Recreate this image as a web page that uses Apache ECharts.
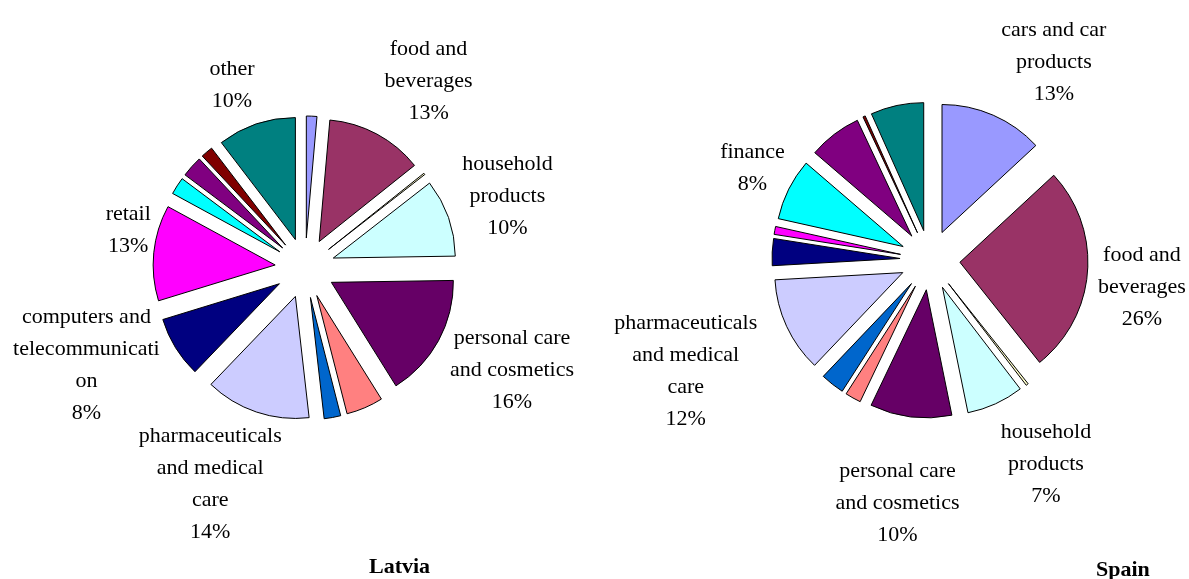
<!DOCTYPE html>
<html>
<head>
<meta charset="utf-8">
<script src="https://cdn.jsdelivr.net/npm/echarts@6/dist/echarts.min.js"></script>
<style>
  html, body { margin: 0; padding: 0; background: #fff; }
  #chart { width: 1189px; height: 579px; }
</style>
</head>
<body>
<div id="chart"></div>
<script>
// sectors, same order in both pies (clockwise from 12 o'clock)
const categories = [
  'cars and car products', 'food and beverages', 'category 3', 'household products',
  'personal care and cosmetics', 'category 6', 'category 7', 'pharmaceuticals and medical care',
  'computers and telecommunication', 'retail', 'category 11', 'finance',
  'category 13', 'category 14', 'other'
];

// shares in % (null = no slice)
const latviaValues = [1.4, 12.9, 0.2, 10.3, 16.4, 4.9, 2.2, 14.0, 8.1, 12.7, null, 2.3, 2.8, 1.6, 10.4];
const spainValues  = [13.1, 26.2, 0.3, 7.2, 10.3, 2.0, 3.0, 12.0, 3.4, 1.0, null, 7.8, 6.7, 0.3, 6.7];

// label text as wrapped in the original (null = no label)
const latviaLabels = [null, 'food and\nbeverages', null, 'household\nproducts', 'personal care\nand cosmetics',
  null, null, 'pharmaceuticals\nand medical\ncare', 'computers and\ntelecommunicati\non', 'retail',
  null, null, null, null, 'other'];
const spainLabels = ['cars and car\nproducts', 'food and\nbeverages', null, 'household\nproducts', 'personal care\nand cosmetics',
  null, null, 'pharmaceuticals\nand medical\ncare', null, null,
  null, 'finance', null, null, null];

const palette = ['#9999FF', '#993366', '#FFFFCC', '#CCFFFF', '#660066', '#FF8080', '#0066CC', '#CCCCFF',
  '#000080', '#FF00FF', '#FFFF00', '#00FFFF', '#800080', '#800000', '#008080'];

const FONT = 'Liberation Serif';
const OFFSET = 30;
const GAP = 4;

// hand nudges (px) where the original labels sit off the bisector
const latviaNudge = { 1: [20, 6], 4: [2, -9], 7: [-18, -11], 8: [-4, -35], 9: [4, -20], 14: [-11, 1] };
const spainNudge = { 0: [33, 10], 1: [3, 11], 3: [23, 0], 4: [-6, 28], 7: [-14, 5], 11: [6, 0] };

// put every label just outside its exploded slice, along the slice's bisector
function labelPlacer(cx, cy, r, values, nudge) {
  const total = values.reduce((s, v) => s + (v == null ? 0 : v), 0);
  const mids = [];
  let acc = 0;
  values.forEach((v) => {
    const val = v == null ? 0 : v;
    mids.push((acc + val / 2) / total * Math.PI * 2);
    acc += val;
  });
  return function (params) {
    const a = mids[params.dataIndex];
    const ux = Math.sin(a), uy = -Math.cos(a);
    const w = params.labelRect.width, h = params.labelRect.height;
    const k = r + OFFSET + GAP + Math.abs(ux) * w / 2 + Math.abs(uy) * h / 2;
    const n = nudge[params.dataIndex] || [0, 0];
    return { x: cx + ux * k + n[0], y: cy + uy * k + n[1], align: 'center', verticalAlign: 'middle' };
  };
}

// exploded pie: every slice selected and pushed out by OFFSET
function pieSeries(values, cx, cy, r) {
  return {
    type: 'pie',
    center: [cx, cy],
    radius: [0, r],
    startAngle: 90,
    clockwise: true,
    selectedMode: 'multiple',
    selectedOffset: OFFSET,
    percentPrecision: 0,
    emphasis: { disabled: true },
    itemStyle: { borderColor: '#000', borderWidth: 1 },
    label: { show: false },
    labelLine: { show: false },
    data: categories.map((name, i) => ({
      name: name,
      value: values[i],
      selected: true,
      itemStyle: { color: palette[i] }
    }))
  };
}

// invisible copy of the pie that only carries the data labels
function labelSeries(values, labels, cx, cy, r, nudge) {
  return {
    type: 'pie',
    silent: true,
    z: 1,
    center: [cx, cy],
    radius: [0, r],
    startAngle: 90,
    clockwise: true,
    percentPrecision: 0,
    avoidLabelOverlap: false,
    emphasis: { disabled: true },
    itemStyle: { color: 'rgba(0,0,0,0)', borderWidth: 0 },
    labelLine: { show: false },
    label: {
      position: 'outside',
      fontFamily: FONT,
      fontSize: 22,
      lineHeight: 32,
      color: '#000',
      overflow: 'none',
      formatter: (p) => labels[p.dataIndex] + '\n' + p.percent + '%'
    },
    labelLayout: labelPlacer(cx, cy, r, values, nudge),
    data: categories.map((name, i) => ({
      name: name,
      value: values[i],
      label: { show: labels[i] != null }
    }))
  };
}

const chart = echarts.init(document.getElementById('chart'));
chart.setOption({
  animation: false,
  backgroundColor: '#fff',
  title: [
    { text: 'Latvia', left: 369, top: 556, padding: 0,
      textStyle: { fontFamily: FONT, fontSize: 22, fontWeight: 'bold', color: '#000' } },
    { text: 'Spain', left: 1096, top: 559, padding: 0,
      textStyle: { fontFamily: FONT, fontSize: 22, fontWeight: 'bold', color: '#000' } }
  ],
  series: [
    pieSeries(latviaValues, 305, 268, 122),
    labelSeries(latviaValues, latviaLabels, 305, 268, 122, latviaNudge),
    pieSeries(spainValues, 930, 260, 128),
    labelSeries(spainValues, spainLabels, 930, 260, 128, spainNudge)
  ]
});
</script>
</body>
</html>
